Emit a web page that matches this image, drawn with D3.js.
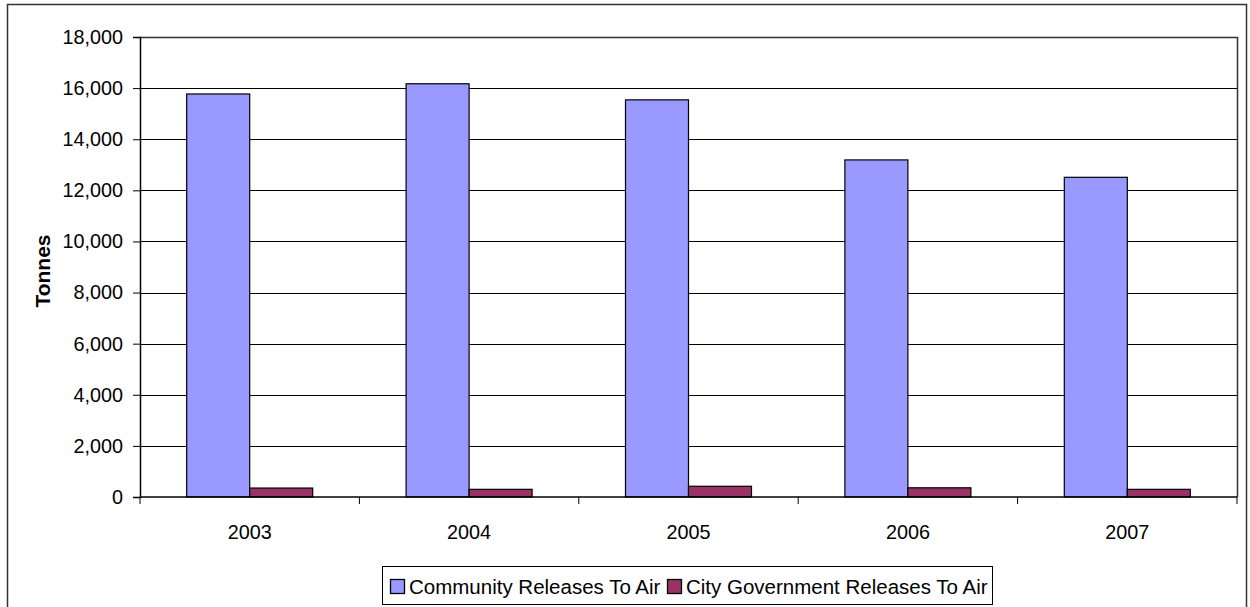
<!DOCTYPE html>
<html>
<head>
<meta charset="utf-8">
<script src="https://cdn.jsdelivr.net/npm/d3@7"></script>
<style>
  body { margin: 0; background: #fff; }
  svg { display: block; font-family: "Liberation Sans", Arial, sans-serif; }
</style>
</head>
<body>
<div id="chart"></div>
<script>
// data
const years = ["2003", "2004", "2005", "2006", "2007"];
const communityReleases = [15770, 16170, 15540, 13190, 12510];
const cityGovReleases = [350, 300, 420, 360, 300];
const seriesNames = ["Community Releases To Air", "City Government Releases To Air"];
const yTicks = [0, 2000, 4000, 6000, 8000, 10000, 12000, 14000, 16000, 18000];

const W = 1250, H = 607;
const margin = { left: 140, top: 37, right: 13, bottom: 110 };
const plotW = W - margin.left - margin.right;
const plotH = H - margin.top - margin.bottom;
const fontSize = 19.8;

const colors = ["#9999ff", "#993366"];

const svg = d3.select("#chart").append("svg")
    .attr("width", W)
    .attr("height", H);

// outer chart border
svg.append("rect")
    .attr("x", 7.5).attr("y", 4.5)
    .attr("width", 1239).attr("height", 610)
    .attr("fill", "none")
    .attr("stroke", "#333")
    .attr("stroke-width", 1.5);

const g = svg.append("g").attr("transform", `translate(${margin.left},${margin.top})`);

const x = d3.scaleBand().domain(years).range([0, plotW]);
const y = d3.scaleLinear().domain([0, 18000]).range([plotH, 0]);
const inner = d3.scaleBand().domain([0, 1]).range([0, 126]);

// gridlines
g.selectAll("line.grid")
    .data(yTicks.slice(1))
    .enter().append("line")
    .attr("class", "grid")
    .attr("x1", 0).attr("x2", plotW)
    .attr("y1", d => Math.round(y(d)) + 0.5)
    .attr("y2", d => Math.round(y(d)) + 0.5)
    .attr("stroke", "#000")
    .attr("stroke-width", 1);

// plot frame (top + right)
g.append("path")
    .attr("d", `M0,0.5H${plotW + 0.5}V${plotH}`)
    .attr("fill", "none")
    .attr("stroke", "#333")
    .attr("stroke-width", 1.5);

// bars
const groups = g.selectAll("g.year")
    .data(years)
    .enter().append("g")
    .attr("class", "year")
    .attr("transform", d => `translate(${x(d) + (x.bandwidth() - 126) / 2},0)`);

[communityReleases, cityGovReleases].forEach((vals, si) => {
    groups.append("rect")
        .attr("x", inner(si))
        .attr("y", (d, i) => y(vals[i]))
        .attr("width", inner.bandwidth())
        .attr("height", (d, i) => plotH - y(vals[i]))
        .attr("fill", colors[si])
        .attr("stroke", "#000")
        .attr("stroke-width", 1.2);
});

// y axis
const yAxis = g.append("g")
    .call(d3.axisLeft(y).tickValues(yTicks).tickSize(7).tickPadding(10)
        .tickFormat(d3.format(",")));
yAxis.select(".domain").attr("stroke", "#000").attr("stroke-width", 1.5);
yAxis.selectAll("line").attr("stroke", "#000");
yAxis.selectAll("text").attr("font-size", fontSize).attr("fill", "#000")
    .attr("font-family", "Liberation Sans, Arial, sans-serif");

// x axis: ticks at category boundaries
const xAxisG = g.append("g").attr("transform", `translate(0,${plotH})`);
xAxisG.append("line")
    .attr("x1", 0).attr("x2", plotW)
    .attr("y1", 0).attr("y2", 0)
    .attr("stroke", "#000").attr("stroke-width", 1.5);
xAxisG.selectAll("line.tick")
    .data(d3.range(years.length + 1))
    .enter().append("line")
    .attr("class", "tick")
    .attr("x1", i => i * x.step()).attr("x2", i => i * x.step())
    .attr("y1", 0).attr("y2", 7)
    .attr("stroke", "#000");
xAxisG.selectAll("text")
    .data(years)
    .enter().append("text")
    .attr("x", d => x(d) + x.bandwidth() / 2)
    .attr("y", 42)
    .attr("text-anchor", "middle")
    .attr("font-size", fontSize)
    .text(d => d);

// y axis title
svg.append("text")
    .attr("transform", `translate(50,${margin.top + plotH / 2 + 4}) rotate(-90)`)
    .attr("text-anchor", "middle")
    .attr("font-size", 21)
    .attr("font-weight", "bold")
    .text("Tonnes");

// legend
const legend = svg.append("g").attr("transform", "translate(382,566)");
legend.append("rect")
    .attr("x", 0.5).attr("y", 0.5)
    .attr("width", 610).attr("height", 38)
    .attr("fill", "#fff").attr("stroke", "#000");
const itemX = [8, 285];
seriesNames.forEach((name, i) => {
    legend.append("rect")
        .attr("x", itemX[i] + 0.5).attr("y", 13.5)
        .attr("width", 14).attr("height", 14)
        .attr("fill", colors[i]).attr("stroke", "#000").attr("stroke-width", 1.3);
    legend.append("text")
        .attr("x", itemX[i] + 19).attr("y", 28)
        .attr("font-size", 20.5)
        .text(name);
});
</script>
</body>
</html>
